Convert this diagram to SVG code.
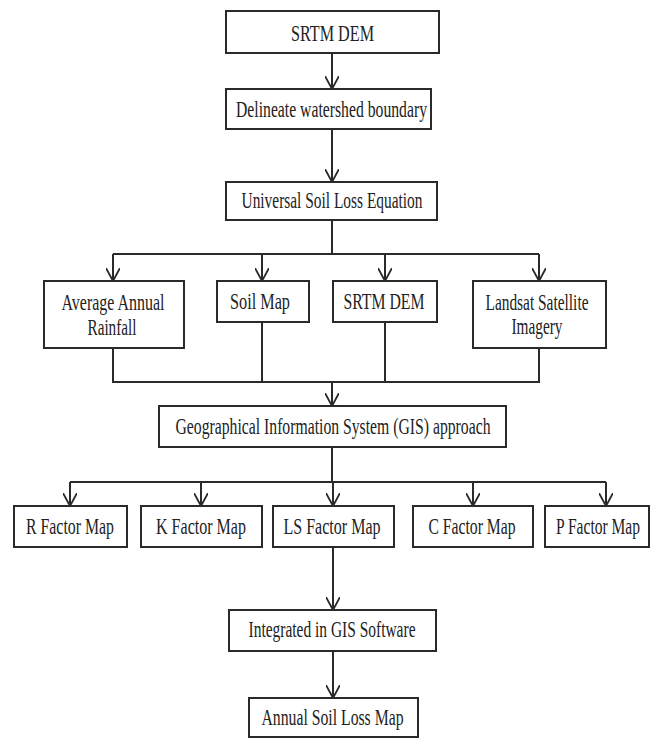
<svg xmlns="http://www.w3.org/2000/svg" width="652" height="739" viewBox="0 0 652 739">
<style>
.box{fill:#fff;stroke:#2a2a2a;stroke-width:2}
.t{font-family:"Liberation Serif","Times New Roman",serif;font-size:24px;fill:#222;text-anchor:middle}
.c{fill:none;stroke:#2a2a2a;stroke-width:2}
.a{fill:none;stroke:#2a2a2a;stroke-width:2;marker-end:url(#arr)}
</style>
<defs>
<marker id="arr" viewBox="0 0 14 14" markerWidth="14" markerHeight="14" refX="13" refY="7" orient="auto" markerUnits="userSpaceOnUse">
<path d="M0,0 L13,7 L0,14" fill="none" stroke="#2a2a2a" stroke-width="1.8"/>
</marker>
</defs>
<rect width="652" height="739" fill="#fff"/>
<g id="connectors">
<line class="a" x1="332" y1="53" x2="332" y2="89"/>
<line class="a" x1="332" y1="129" x2="332" y2="182"/>
<line class="c" x1="332" y1="220" x2="332" y2="254"/>
<line class="c" x1="113" y1="254" x2="539" y2="254"/>
<line class="a" x1="113" y1="254" x2="113" y2="281"/>
<line class="a" x1="262" y1="254" x2="262" y2="281"/>
<line class="a" x1="385" y1="254" x2="385" y2="281"/>
<line class="a" x1="539" y1="254" x2="539" y2="281"/>
<polyline class="c" points="113,348 113,382 539,382 539,348"/>
<line class="c" x1="262" y1="322" x2="262" y2="382"/>
<line class="c" x1="385" y1="322" x2="385" y2="382"/>
<line class="a" x1="332" y1="382" x2="332" y2="406"/>
<line class="c" x1="332" y1="447" x2="332" y2="482"/>
<line class="c" x1="70" y1="482" x2="606" y2="482"/>
<line class="a" x1="70" y1="482" x2="70" y2="506"/>
<line class="a" x1="201" y1="482" x2="201" y2="506"/>
<line class="a" x1="333" y1="482" x2="333" y2="506"/>
<line class="a" x1="473" y1="482" x2="473" y2="506"/>
<line class="a" x1="606" y1="482" x2="606" y2="506"/>
<line class="a" x1="333" y1="547" x2="333" y2="610"/>
<line class="a" x1="333" y1="651" x2="333" y2="698"/>
</g>
<g id="srtm-top"><rect class="box" x="226" y="11" width="213" height="42"/><text class="t" x="332.5" y="41" textLength="83" lengthAdjust="spacingAndGlyphs">SRTM DEM</text></g>
<g id="delineate"><rect class="box" x="226" y="89" width="205" height="40"/><text class="t" x="331.5" y="117" textLength="191" lengthAdjust="spacingAndGlyphs">Delineate watershed boundary</text></g>
<g id="usle"><rect class="box" x="226" y="182" width="211" height="38"/><text class="t" x="332" y="208" textLength="181" lengthAdjust="spacingAndGlyphs">Universal Soil Loss Equation</text></g>
<g id="rainfall"><rect class="box" x="44" y="281" width="140" height="67"/><text class="t" x="113" y="310" textLength="103" lengthAdjust="spacingAndGlyphs">Average Annual</text><text class="t" x="112" y="335" textLength="49" lengthAdjust="spacingAndGlyphs">Rainfall</text></g>
<g id="soil"><rect class="box" x="217" y="281" width="92" height="41"/><text class="t" x="260" y="309" textLength="60" lengthAdjust="spacingAndGlyphs">Soil Map</text></g>
<g id="srtm"><rect class="box" x="333" y="281" width="104" height="41"/><text class="t" x="384" y="309" textLength="81" lengthAdjust="spacingAndGlyphs">SRTM DEM</text></g>
<g id="landsat"><rect class="box" x="473" y="281" width="133" height="67"/><text class="t" x="537" y="310" textLength="103" lengthAdjust="spacingAndGlyphs">Landsat Satellite</text><text class="t" x="537" y="334" textLength="51" lengthAdjust="spacingAndGlyphs">Imagery</text></g>
<g id="gis"><rect class="box" x="159" y="406" width="347" height="41"/><text class="t" x="333" y="434" textLength="315" lengthAdjust="spacingAndGlyphs">Geographical Information System (GIS) approach</text></g>
<g id="r"><rect class="box" x="14" y="506" width="113" height="41"/><text class="t" x="70" y="534" textLength="88" lengthAdjust="spacingAndGlyphs">R Factor Map</text></g>
<g id="k"><rect class="box" x="141" y="506" width="121" height="41"/><text class="t" x="201" y="534" textLength="90" lengthAdjust="spacingAndGlyphs">K Factor Map</text></g>
<g id="ls"><rect class="box" x="273" y="506" width="121" height="41"/><text class="t" x="332" y="534" textLength="97" lengthAdjust="spacingAndGlyphs">LS Factor Map</text></g>
<g id="c"><rect class="box" x="413" y="506" width="120" height="41"/><text class="t" x="472" y="534" textLength="87" lengthAdjust="spacingAndGlyphs">C Factor Map</text></g>
<g id="p"><rect class="box" x="545" y="506" width="104" height="41"/><text class="t" x="598" y="534" textLength="84" lengthAdjust="spacingAndGlyphs">P Factor Map</text></g>
<g id="integrated"><rect class="box" x="229" y="610" width="207" height="41"/><text class="t" x="332" y="637" textLength="167" lengthAdjust="spacingAndGlyphs">Integrated in GIS Software</text></g>
<g id="annual"><rect class="box" x="249" y="698" width="169" height="39"/><text class="t" x="332.5" y="725" textLength="142" lengthAdjust="spacingAndGlyphs">Annual Soil Loss Map</text></g>
</svg>
